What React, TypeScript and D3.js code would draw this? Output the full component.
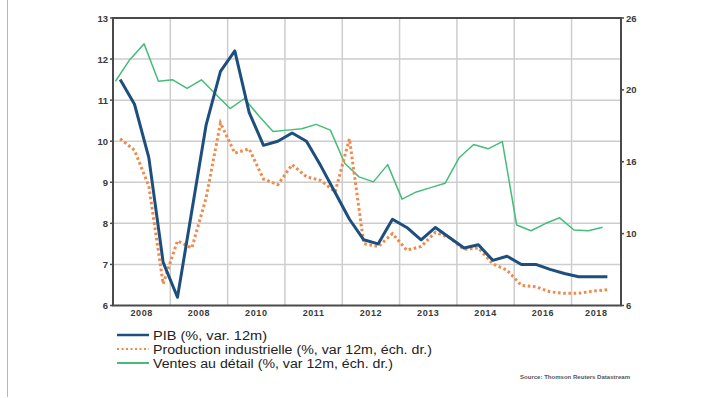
import React from "react";
import * as d3 from "d3";

// Quarterly series (2008 Q1 onwards)
const pib = [11.5, 10.9, 9.6, 7.05, 6.2, 8.3, 10.4, 11.7, 12.2, 10.7, 9.9, 10.0, 10.2, 10.0, 9.4, 8.75, 8.1, 7.6, 7.5, 8.1, 7.9, 7.6, 7.9, 7.65, 7.4, 7.48, 7.1, 7.2, 7.0, 7.0, 6.88, 6.78, 6.7, 6.7, 6.7];
const production = [16.6, 15.8, 13.3, 6.5, 9.5, 9.0, 12.5, 17.7, 15.6, 15.9, 13.8, 13.4, 14.8, 13.95, 13.7, 12.9, 16.6, 9.3, 9.1, 10.0, 8.85, 9.1, 10.1, 9.7, 8.9, 9.0, 7.9, 7.45, 6.4, 6.3, 5.95, 5.85, 5.85, 6.0, 6.1];
const ventes = [20.6, 22.1, 23.2, 20.6, 20.7, 20.1, 20.7, 19.7, 18.7, 19.4, 18.2, 17.1, 17.2, 17.3, 17.6, 17.2, 14.9, 13.95, 13.6, 14.8, 12.4, 12.9, 13.2, 13.5, 15.3, 16.2, 15.9, 16.4, 10.6, 10.2, 10.7, 11.1, 10.25, 10.2, 10.45];

const yearLabels = ["2008", "2008", "2010", "2011", "2012", "2013", "2014", "2016", "2018"];
const leftTicks = [13, 12, 11, 10, 9, 8, 7, 6];
const rightTicks = [25, 20, 15, 10, 5];
const rightTickLabels = ["26", "20", "16", "10", "6"];
const legendItems = [
  "PIB (%, var. 12m)",
  "Production industrielle (%, var 12m, éch. dr.)",
  "Ventes au détail (%, var 12m, éch. dr.)",
];
const sourceText = "Source: Thomson Reuters Datastream";

const X0 = 113, X1 = 621, Y0 = 18, Y1 = 305.5;
const totalQuarters = 35.45;

export default function App() {
  const x = d3.scaleLinear().domain([0, totalQuarters]).range([X0, X1]);
  const yL = d3.scaleLinear().domain([6, 13]).range([Y1, Y0]);
  const yR = d3.scaleLinear().domain([5, 25]).range([Y1, Y0]);

  const pibLine = d3.line<number>().x((_, i) => x(i + 0.5)).y((d) => yL(d))(pib) || "";
  const prodLine = d3.line<number>().x((_, i) => x(i + 0.5)).y((d) => yR(d))(production) || "";
  const ventesLine = d3.line<number>().x((_, i) => x(i + 0.17)).y((d) => yR(d))(ventes) || "";

  const yearBounds = d3.range(1, 9).map((k) => k * 4);
  const labelCenters = yearLabels.map((_, k) => {
    const a = k * 4;
    const b = Math.min(a + 4, totalQuarters);
    return (a + b) / 2;
  });

  const blue = "#1d4f7e";
  const orange = "#ef8a4c";
  const green = "#45bd78";
  const axisColor = "#4a4a4a";
  const gridColor = "#cdcdcd";
  const legendWidths = [114, 279, 240];

  return (
    <svg width={718} height={398} style={{ position: "absolute", left: 0, top: 0, background: "#fff" }} fontFamily="Liberation Sans, Arial, sans-serif">
      <rect x={0} y={0} width={718} height={398} fill="#fff" />
      <line x1={7.5} x2={7.5} y1={0} y2={397} stroke="#b8b8b8" strokeWidth={1} />

      {/* horizontal grid */}
      {leftTicks.slice(1, -1).map((t) => (
        <line key={"h" + t} x1={X0} x2={X1} y1={yL(t)} y2={yL(t)} stroke={gridColor} strokeWidth={1.5} />
      ))}
      {/* vertical grid */}
      {yearBounds.map((q) => (
        <line key={"v" + q} x1={x(q)} x2={x(q)} y1={Y0} y2={Y1} stroke={gridColor} strokeWidth={1.5} />
      ))}

      {/* series */}
      <path d={ventesLine} fill="none" stroke={green} strokeWidth={1.5} strokeLinejoin="round" />
      <path d={prodLine} fill="none" stroke={orange} strokeWidth={3} strokeDasharray="2.6 2.6" />
      <path d={pibLine} fill="none" stroke={blue} strokeWidth={3} strokeLinejoin="round" />

      {/* frame */}
      <rect x={X0} y={Y0} width={X1 - X0} height={Y1 - Y0} fill="none" stroke={axisColor} strokeWidth={2} />

      {/* left axis */}
      {leftTicks.map((t) => (
        <g key={"l" + t}>
          <line x1={X0 - 3} x2={X0} y1={yL(t)} y2={yL(t)} stroke={axisColor} strokeWidth={1.5} />
          <text x={108} y={yL(t) + 3.5} textAnchor="end" fontSize={9.5} fontWeight="bold" fill="#3a3a3a">{t}</text>
        </g>
      ))}
      {/* right axis */}
      {rightTicks.map((t, i) => (
        <g key={"r" + t}>
          <line x1={X1} x2={X1 + 3} y1={yR(t)} y2={yR(t)} stroke={axisColor} strokeWidth={1.5} />
          <text x={626} y={yR(t) + 3.5} textAnchor="start" fontSize={9.5} fontWeight="bold" fill="#3a3a3a">{rightTickLabels[i]}</text>
        </g>
      ))}
      {/* bottom labels */}
      {yearLabels.map((lab, k) => (
        <text key={"y" + k} x={x(labelCenters[k])} y={316} textAnchor="middle" fontSize={9} fontWeight="bold" letterSpacing={0.6} fill="#3a3a3a">{lab}</text>
      ))}

      {/* legend */}
      {legendItems.map((lab, i) => {
        const ly = 335 + i * 14;
        return (
          <g key={"lg" + i}>
            {i === 0 && <line x1={117} x2={149} y1={ly} y2={ly} stroke={blue} strokeWidth={2.5} />}
            {i === 1 && <line x1={117} x2={149} y1={ly} y2={ly} stroke={orange} strokeWidth={2} strokeDasharray="2 2.5" />}
            {i === 2 && <line x1={117} x2={149} y1={ly} y2={ly} stroke={green} strokeWidth={2} />}
            <text x={153} y={ly + 4.5} fontSize={12.5} fill="#222" textLength={legendWidths[i]} lengthAdjust="spacingAndGlyphs">{lab}</text>
          </g>
        );
      })}

      <text x={520} y={379} fontSize={5.5} fill="#555" fontWeight="bold" textLength={110} lengthAdjust="spacingAndGlyphs">{sourceText}</text>
    </svg>
  );
}
